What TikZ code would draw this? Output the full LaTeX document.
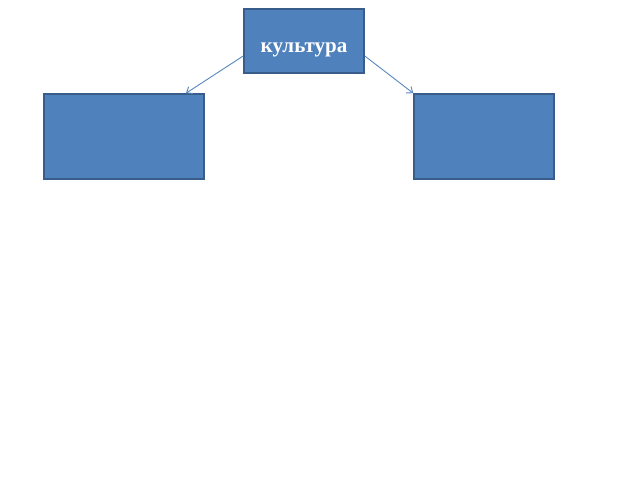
\documentclass[tikz,border=0pt]{standalone}
\usepackage{fontspec}
\setmainfont{Liberation Serif}
\usetikzlibrary{arrows.meta}
\definecolor{boxfill}{HTML}{4F81BD}
\definecolor{boxline}{HTML}{385D8A}
\definecolor{arrline}{HTML}{5A87BE}
\tikzset{
  blockbox/.style={draw=boxline, line width=1.6pt, fill=boxfill, inner sep=0pt},
  boxtext/.style={text=white, font=\fontsize{21}{25}\selectfont\bfseries},
  link/.style={draw=arrline, line width=0.9pt, -{Straight Barb[length=5pt,width=8pt]}}
}
\begin{document}
\begin{tikzpicture}[x=1pt,y=-1pt]
\useasboundingbox (0,0) rectangle (640,480);
\fill[white] (0,0) rectangle (640,480);
\node[blockbox, minimum width=120pt, minimum height=64pt,
  label={[boxtext, yshift=-9pt]center:культура}] (top) at (304,41) {};
\node[blockbox, minimum width=160pt, minimum height=85pt] (left) at (124,136.5) {};
\node[blockbox, minimum width=140pt, minimum height=85pt] (right) at (484,136.5) {};
\draw[link] ([yshift=-15pt]top.west) -- ([xshift=62pt]left.north);
\draw[link] ([yshift=-15pt]top.east) -- (right.north west);
\end{tikzpicture}
\end{document}
